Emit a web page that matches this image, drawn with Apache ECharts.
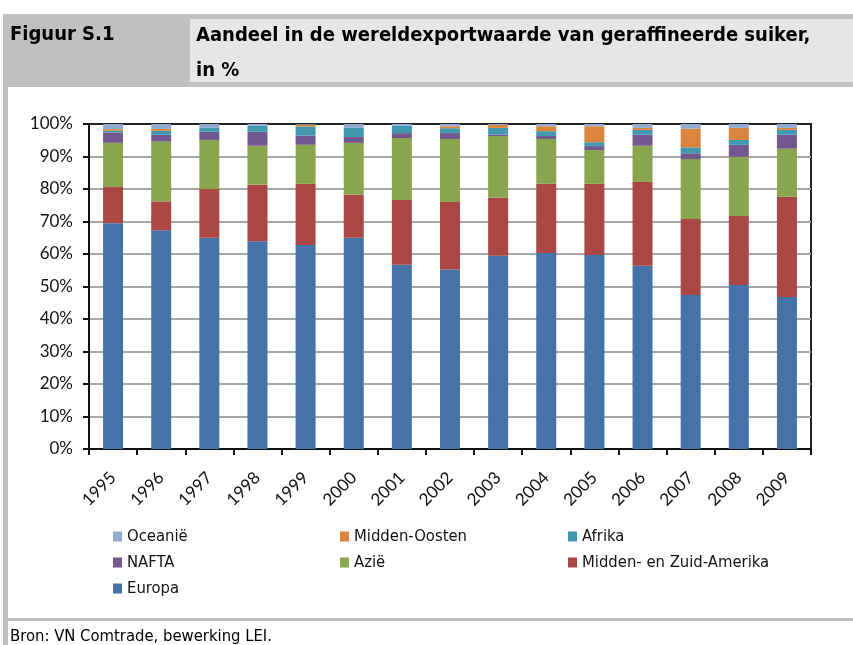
<!DOCTYPE html>
<html>
<head>
<meta charset="utf-8">
<script src="https://cdn.jsdelivr.net/npm/echarts@6/dist/echarts.min.js"></script>
<style>
html,body{margin:0;padding:0;background:#fff;}
#chart{width:853px;height:645px;}
</style>
</head>
<body>
<div id="chart"></div>
<script>
var years = ['1995','1996','1997','1998','1999','2000','2001','2002','2003','2004','2005','2006','2007','2008','2009'];
var europa       = [69.5, 67.3, 65.0, 63.9, 62.8, 65.0, 56.7, 55.2, 59.5, 60.3, 59.7, 56.4, 47.4, 50.5, 46.8];
var zuidAmerika  = [11.1,  8.9, 15.0, 17.4, 18.8, 13.2, 19.9, 20.8, 17.8, 21.3, 21.9, 25.8, 23.4, 21.2, 30.8];
var azie         = [13.6, 18.4, 15.1, 12.0, 12.0, 16.0, 19.1, 19.4, 19.0, 13.8, 10.4, 11.1, 18.4, 18.2, 14.8];
var nafta        = [ 3.2,  2.1,  2.5,  4.3,  2.8,  1.8,  1.5,  1.8,  0.4,  0.9,  1.2,  3.4,  1.8,  3.7,  4.3];
var afrika       = [ 0.5,  1.2,  1.2,  1.8,  2.8,  2.8,  2.2,  1.5,  2.1,  1.5,  1.2,  1.5,  1.8,  1.5,  1.5];
var middenOosten = [ 0.5,  0.6,  0.0,  0.0,  0.6,  0.0,  0.0,  0.6,  0.9,  1.5,  4.9,  0.6,  5.8,  3.7,  0.6];
var oceanie      = [ 1.6,  1.5,  1.2,  0.6,  0.3,  1.2,  0.6,  0.7,  0.3,  0.7,  0.7,  1.2,  1.4,  1.2,  1.2];
var yTicks = [0,10,20,30,40,50,60,70,80,90,100];

var seriesDefs = [
  {name:'Europa', data:europa, color:'#4572A7'},
  {name:'Midden- en Zuid-Amerika', data:zuidAmerika, color:'#AA4643'},
  {name:'Azië', data:azie, color:'#89A54E'},
  {name:'NAFTA', data:nafta, color:'#71588F'},
  {name:'Afrika', data:afrika, color:'#4198AF'},
  {name:'Midden-Oosten', data:middenOosten, color:'#DB843D'},
  {name:'Oceanië', data:oceanie, color:'#93A9CF'}
];

var narrow = '"Liberation Sans Narrow","DejaVu Sans Condensed",sans-serif';
var legendText = {fontFamily:narrow, fontSize:16.5, color:'#111'};
function mkLegend(names, left){
  return {
    data:names, orient:'vertical', left:left, top:528,
    itemWidth:9, itemHeight:10, itemGap:9, icon:'rect',
    textStyle:legendText, selectedMode:false, padding:0
  };
}

var chart = echarts.init(document.getElementById('chart'), null, {renderer:'canvas'});
chart.setOption({
  animation:false,
  backgroundColor:'#fff',
  graphic:[
    {type:'rect', shape:{x:3,y:14,width:850,height:73}, style:{fill:'#c0c0c0'}, silent:true},
    {type:'rect', shape:{x:190,y:19,width:663,height:63}, style:{fill:'#e6e6e6'}, silent:true},
    {type:'rect', shape:{x:3,y:87,width:5,height:558}, style:{fill:'#c0c0c0'}, silent:true},
    {type:'rect', shape:{x:3,y:618,width:850,height:3}, style:{fill:'#c0c0c0'}, silent:true},
    {type:'text', left:10, top:25, style:{text:'Figuur S.1', font:'bold 20px ' + narrow, fill:'#000'}},
    {type:'text', left:196, top:18, style:{text:'Aandeel in de wereldexportwaarde van geraffineerde suiker,\nin %', font:'bold 20px ' + narrow, fill:'#000', lineHeight:35}},
    {type:'text', left:10, top:628, style:{text:'Bron: VN Comtrade, bewerking LEI.', font:'16.5px ' + narrow, fill:'#000'}}
  ],
  legend:[
    mkLegend(['Oceanië','NAFTA','Europa'], 113),
    mkLegend(['Midden-Oosten','Azië'], 340),
    mkLegend(['Afrika','Midden- en Zuid-Amerika'], 568)
  ],
  grid:{left:89, right:42, top:124, bottom:196, show:true, borderColor:'#222', borderWidth:2, backgroundColor:'transparent'},
  xAxis:{
    type:'category', data:years,
    axisLine:{lineStyle:{color:'#111', width:2}},
    axisTick:{show:true, length:6, lineStyle:{color:'#111', width:2}},
    axisLabel:{rotate:45, margin:26, color:'#111', fontFamily:'Lato, sans-serif', fontSize:17}
  },
  yAxis:{
    type:'value', min:0, max:100, interval:10,
    axisLine:{show:true, lineStyle:{color:'#111', width:2}},
    axisTick:{show:true, length:6, lineStyle:{color:'#111', width:2}},
    axisLabel:{margin:16, color:'#111', fontFamily:'Lato, sans-serif', fontSize:17,
      formatter:function(v){ return yTicks.indexOf(v) >= 0 ? v + '%' : ''; }},
    splitLine:{show:true, showMinLine:false, showMaxLine:false, lineStyle:{color:'#a6a6a6', width:2}}
  },
  series: seriesDefs.map(function(s){
    return {name:s.name, type:'bar', stack:'total', data:s.data, barWidth:20,
      itemStyle:{color:s.color}, emphasis:{disabled:true}};
  })
});
</script>
</body>
</html>
